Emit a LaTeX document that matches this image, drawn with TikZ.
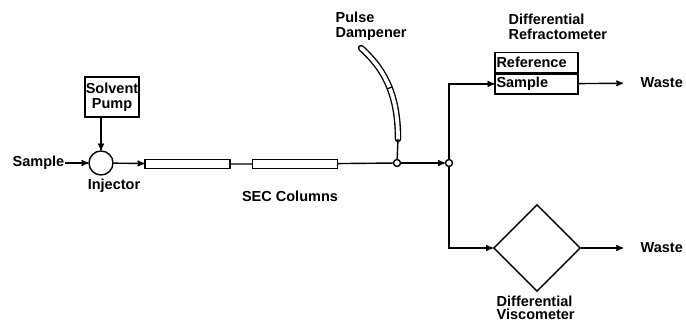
\documentclass[tikz,border=0pt]{standalone}
\usepackage{fontspec}
\setsansfont{Liberation Sans}
\usetikzlibrary{arrows,shapes.geometric,positioning}

\begin{document}
\begin{tikzpicture}[->,>=stealth',x=1pt,y=-1pt,line width=1.4pt,
                    lbl/.style={font=\sffamily\bfseries\fontsize{14.5}{15}\selectfont,align=left,inner sep=0pt},
                    column/.style={draw,rectangle,minimum width=85pt,minimum height=9pt,inner sep=0pt},
                    junc/.style={draw,circle,minimum size=7pt,inner sep=0pt},
                    cell/.style={lbl,draw,text width=80pt,minimum height=20pt,inner xsep=1.5pt}]

 \useasboundingbox (0,0) rectangle (686,323);

 \node[junc,minimum size=24pt] (I) at (101,163) {};
 \node[lbl,anchor=east] (S) at (65,163) {Sample};
 \node[lbl,draw,align=center,minimum width=50pt,minimum height=40pt,inner xsep=1pt] (P) at (112,97) {Solvent\\Pump};
 \node[lbl] (IL) at (114,186) {Injector};

 \node[column] (C1) at (187.5,164) {};
 \node[column] (C2) at (295,164) {};
 \node[lbl] (CL) at (290,196) {SEC Columns};

 \node[junc] (J1) at (397,163) {};
 \node[junc] (J2) at (449,163) {};
 \coordinate (D) at (398,139);

 % pulse dampener
 \draw[-,line cap=round,line width=6.5pt] (D) .. controls (398,100) and (388,72) .. (361,48);
 \draw[-,line cap=round,line width=3.8pt,white] (D) .. controls (398,100) and (388,72) .. (361,48)
      node[pos=0.5,sloped,fill=black,minimum width=1.2pt,minimum height=6pt,inner sep=0pt] {};
 \node[lbl,anchor=north west] (DL) at (335,11) {Pulse\\Dampener};

 \node[cell] (RR) at (536.5,62.5) {Reference};
 \node[cell,below=0pt of RR] (RS) {Sample};
 \node[lbl,anchor=south west] (RL) at (508,40) {Differential\\Refractometer};

 \node[draw,diamond,minimum width=87pt,minimum height=87pt,inner sep=0pt] (V) at (537,248) {};
 \node[lbl,anchor=north west,font=\sffamily\bfseries\fontsize{14.5}{13.5}\selectfont] (VL) at (496,295) {Differential\\Viscometer};

 \node[lbl,anchor=west] (W1) at (640,83) {Waste};
 \node[lbl,anchor=west] (W2) at (640,248) {Waste};

 \path (S) edge (I)
       (I) edge (C1)
       (J1) edge (J2)
       (RS) edge [shorten >=17pt] (W1)
       (V) edge [shorten >=17pt] (W2);
 \draw (P.south -| I) -- (I);
 \draw[-] (C1) -- (C2) (C2) -- (J1) (J1) -- (D);
 \draw (J2) |- (RS.west);
 \draw (J2) |- (V.west);

\end{tikzpicture}
\end{document}
